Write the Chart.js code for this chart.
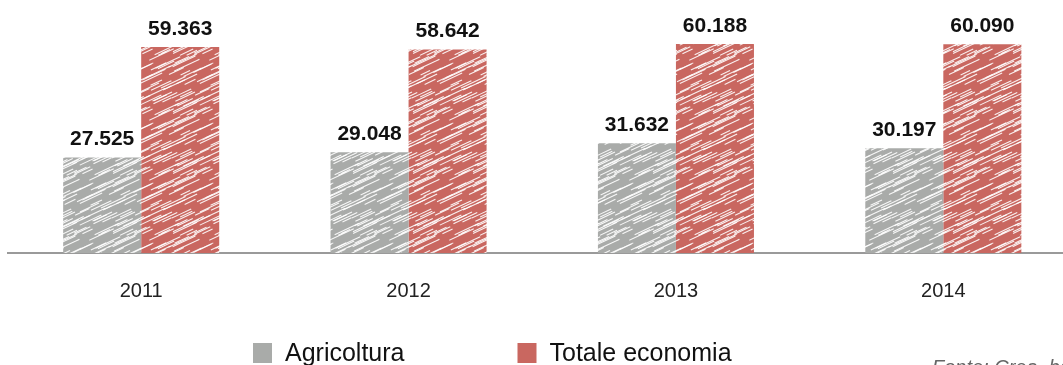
<!DOCTYPE html>
<html>
<head>
<meta charset="utf-8">
<script src="https://cdn.jsdelivr.net/npm/chart.js@4.4.1/dist/chart.umd.min.js"></script>
<style>
  html, body { margin: 0; padding: 0; background: #ffffff; overflow: hidden; }
  #wrap { position: relative; width: 1063px; height: 365px; overflow: hidden; }
  canvas { display: block; }
</style>
</head>
<body>
<div id="wrap"><canvas id="c" width="1085" height="365"></canvas></div>
<script>
// ---- data ----
const categories = ['2011', '2012', '2013', '2014'];
const agricoltura = [27525, 29048, 31632, 30197];
const totaleEconomia = [59363, 58642, 60188, 60090];
const seriesNames = ['Agricoltura', 'Totale economia'];
const sourceText = 'Fonte: Crea, banca dati RICA';

// ---- hatched texture ----
function makeHatch(base) {
  const s = 60;
  const cv = document.createElement('canvas');
  cv.width = s; cv.height = s;
  const g = cv.getContext('2d');
  g.fillStyle = base;
  g.fillRect(0, 0, s, s);
  g.strokeStyle = 'rgba(255,255,255,0.9)';
  g.lineWidth = 1.1;
  // deterministic sketch strokes
  let seed = 7;
  const rnd = () => { seed = (seed * 16807) % 2147483647; return seed / 2147483647; };
  for (let k = 0; k < 50; k++) {
    const x = rnd() * s, y = rnd() * s, len = 8 + rnd() * 18;
    for (const dx of [-s, 0, s]) {
      for (const dy of [-s, 0, s]) {
        g.beginPath();
        g.moveTo(x + dx, y + dy);
        g.lineTo(x + dx + len, y + dy - len * 0.47);
        g.stroke();
      }
    }
  }
  return g.createPattern(cv, 'repeat');
}

const grayColor = '#a9aba9';
const redColor = '#c96760';
const ctx = document.getElementById('c').getContext('2d');

function fmt(v) {
  return String(v).replace(/\B(?=(\d{3})+(?!\d))/g, '.');
}

const valueLabels = {
  id: 'valueLabels',
  afterDatasetsDraw(chart) {
    const c = chart.ctx;
    c.save();
    c.font = 'bold 21px "Liberation Sans", Arial, sans-serif';
    c.fillStyle = '#111111';
    c.textAlign = 'center';
    c.textBaseline = 'alphabetic';
    chart.data.datasets.forEach((ds, i) => {
      const meta = chart.getDatasetMeta(i);
      meta.data.forEach((el, j) => {
        c.fillText(fmt(ds.data[j]), el.x, el.y - 12);
      });
    });
    c.restore();
  }
};

const customLegend = {
  id: 'customLegend',
  afterDraw(chart) {
    const c = chart.ctx;
    c.save();
    c.font = '25px "Liberation Sans", Arial, sans-serif';
    c.textBaseline = 'middle';
    c.textAlign = 'left';
    let x = 253;
    const yMid = 353;
    chart.data.datasets.forEach((ds) => {
      c.fillStyle = ds.legendColor;
      c.fillRect(x, yMid - 10, 19, 20);
      c.fillStyle = '#111111';
      c.fillText(ds.label, x + 32, yMid + 1);
      x += 32 + c.measureText(ds.label).width + 113;
    });
    c.font = 'italic 20px "Liberation Sans", Arial, sans-serif';
    c.fillStyle = '#666666';
    c.textBaseline = 'alphabetic';
    c.fillText(sourceText, 932, 374);
    c.restore();
  }
};

new Chart(ctx, {
  type: 'bar',
  data: {
    labels: categories,
    datasets: [
      { label: seriesNames[0], data: agricoltura, backgroundColor: makeHatch(grayColor), legendColor: grayColor,
        categoryPercentage: 0.5836, barPercentage: 1.0, borderWidth: 0 },
      { label: seriesNames[1], data: totaleEconomia, backgroundColor: makeHatch(redColor), legendColor: redColor,
        categoryPercentage: 0.5836, barPercentage: 1.0, borderWidth: 0 }
    ]
  },
  options: {
    responsive: false,
    animation: false,
    events: [],
    layout: { padding: { top: 3, left: 7.5, right: 8, bottom: 36 } },
    plugins: { legend: { display: false }, tooltip: { enabled: false } },
    scales: {
      x: {
        grid: { display: false, drawTicks: false },
        border: { display: true, color: '#9a9a9a', width: 2 },
        ticks: { color: '#222222', padding: 26, font: { size: 20, family: '"Liberation Sans", Arial, sans-serif' } }
      },
      y: {
        display: false,
        min: 0,
        max: 72000
      }
    }
  },
  plugins: [valueLabels, customLegend]
});
</script>
</body>
</html>
